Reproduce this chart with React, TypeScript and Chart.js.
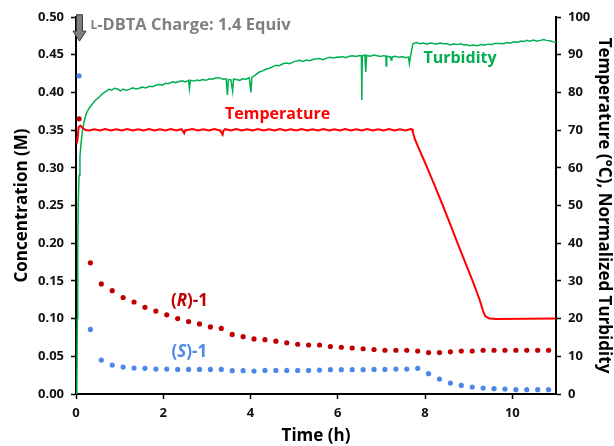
import { useEffect, useRef } from 'react';
import { Chart, registerables } from 'chart.js';

Chart.register(...registerables);

// ---- Data ----
const xTickStep = 2;
const leftTickStep = 0.05;
const rightTickStep = 10;

const dotTimes = [
  0.07, 0.33, 0.58, 0.83, 1.08, 1.33, 1.58, 1.83, 2.08, 2.33, 2.58, 2.83, 3.08, 3.33, 3.58, 3.83,
  4.08, 4.33, 4.58, 4.83, 5.08, 5.33, 5.58, 5.83, 6.08, 6.33, 6.58, 6.83, 7.08, 7.33, 7.58, 7.83,
  8.08, 8.33, 8.58, 8.83, 9.08, 9.33, 9.58, 9.83, 10.08, 10.33, 10.58, 10.83,
];
const rConc = [
  0.365, 0.174, 0.146, 0.137, 0.128, 0.122, 0.115, 0.11, 0.105, 0.1, 0.096, 0.093, 0.089, 0.087,
  0.079, 0.076, 0.073, 0.072, 0.07, 0.068, 0.066, 0.065, 0.065, 0.063, 0.062, 0.061, 0.06, 0.059,
  0.058, 0.058, 0.058, 0.057, 0.055, 0.055, 0.056, 0.057, 0.057, 0.058, 0.058, 0.058, 0.058,
  0.058, 0.058, 0.058,
];
const sConc = [
  0.422, 0.0857, 0.045, 0.0383, 0.0357, 0.0344, 0.034, 0.0331, 0.0331, 0.0326, 0.0326, 0.0326,
  0.0326, 0.0326, 0.0309, 0.0309, 0.0304, 0.0313, 0.0313, 0.0313, 0.0313, 0.0313, 0.0317, 0.0322,
  0.0322, 0.0322, 0.0322, 0.0326, 0.0326, 0.033, 0.033, 0.034, 0.0269, 0.0198, 0.0145, 0.0114,
  0.0092, 0.0078, 0.007, 0.0065, 0.0057, 0.0057, 0.0057, 0.0057,
];

const tempTimes = [
  0.02, 0.04, 0.06, 0.1, 0.16, 0.22, 0.3, 0.42, 0.55, 0.67, 0.8, 0.92, 1.05, 1.17, 1.3, 1.42, 1.55,
  1.67, 1.8, 1.92, 2.05, 2.17, 2.3, 2.42, 2.48, 2.5, 2.67, 2.8, 2.92, 3.05, 3.17, 3.3, 3.36, 3.38,
  3.42, 3.55, 3.67, 3.8, 3.92, 4.05, 4.17, 4.3, 4.42, 4.55, 4.67, 4.8, 4.92, 5.05, 5.17, 5.3, 5.42,
  5.55, 5.67, 5.8, 5.92, 6.05, 6.17, 6.3, 6.42, 6.55, 6.67, 6.8, 6.92, 7.05, 7.17, 7.3, 7.42, 7.55,
  7.67, 7.7, 7.72, 7.76, 7.85, 7.99, 8.18, 8.4, 8.6, 8.73, 8.94, 9.1, 9.25, 9.33, 9.38, 9.46, 9.6,
  11.0,
];
const tempValues = [
  66.5, 68, 70.8, 71.2, 70.5, 70, 69.9, 70.25, 69.9, 70.3, 69.9, 70.25, 69.9, 70.3, 69.9, 70.25,
  69.9, 70.3, 69.9, 70.25, 69.9, 70.3, 69.9, 70.25, 69.2, 69.9, 70.3, 69.9, 70.25, 69.9, 70.3,
  69.9, 68.8, 69.9, 70.25, 69.9, 70.3, 69.9, 70.25, 69.9, 70.3, 69.9, 70.25, 69.9, 70.3, 69.9,
  70.25, 69.9, 70.3, 69.9, 70.25, 69.9, 70.3, 69.9, 70.25, 69.9, 70.3, 69.9, 70.25, 69.9, 70.3,
  69.9, 70.25, 69.9, 70.3, 69.9, 70.25, 69.9, 70.3, 70.2, 69.5, 67.8, 65.3, 61.6, 56.4, 50.2,
  44.3, 40.4, 34.3, 29.7, 25.0, 22.0, 20.6, 20.1, 19.9, 20,
];

const turbTimes = [
  0, 0.02, 0.03, 0.04, 0.05, 0.07, 0.09, 0.12, 0.15, 0.19, 0.24, 0.3, 0.38, 0.45, 0.52, 0.6, 0.68,
  0.75, 0.82, 0.88, 0.95, 1.02, 1.08, 1.15, 1.22, 1.3, 1.37, 1.45, 1.52, 1.6, 1.68, 1.75, 1.83, 1.9,
  1.98, 2.05, 2.12, 2.21, 2.28, 2.36, 2.44, 2.5, 2.58, 2.6, 2.62, 2.7, 2.78, 2.83, 2.9, 2.98, 3.05,
  3.12, 3.2, 3.29, 3.36, 3.44, 3.47, 3.49, 3.55, 3.59, 3.61, 3.68, 3.75, 3.82, 3.9, 3.97, 4.01,
  4.03, 4.1, 4.2, 4.28, 4.36, 4.44, 4.52, 4.59, 4.66, 4.74, 4.82, 4.9, 4.98, 5.05, 5.12, 5.2, 5.28,
  5.36, 5.44, 5.52, 5.58, 5.66, 5.74, 5.82, 5.9, 5.98, 6.05, 6.11, 6.18, 6.26, 6.34, 6.42, 6.5,
  6.54, 6.55, 6.56, 6.62, 6.64, 6.66, 6.74, 6.82, 6.9, 6.98, 7.05, 7.1, 7.11, 7.12, 7.2, 7.22,
  7.24, 7.32, 7.4, 7.48, 7.56, 7.62, 7.64, 7.68, 7.72, 7.8, 7.88, 7.96, 8.04, 8.12, 8.18, 8.26,
  8.34, 8.42, 8.5, 8.58, 8.66, 8.74, 8.82, 8.9, 8.94, 9.02, 9.1, 9.2, 9.28, 9.36, 9.44, 9.52, 9.6,
  9.71, 9.8, 9.88, 9.96, 10.04, 10.12, 10.2, 10.28, 10.32, 10.4, 10.48, 10.56, 10.64, 10.72, 10.78,
  10.86, 10.94, 11.0,
];
const turbValues = [
  0, 2, 20, 38, 50, 58, 63, 67, 70, 72.5, 74.5, 75.8, 77, 78, 78.6, 79.6, 80.2, 80.8, 80.6, 81.1,
  80.9, 80.4, 80.9, 80.5, 80.8, 81.2, 80.9, 81.1, 81.4, 81.2, 81.6, 81.5, 81.9, 82.1, 81.9, 82.4,
  82.3, 82.8, 82.6, 82.9, 83.1, 82.8, 83.2, 81.0, 83.2, 83.0, 83.3, 83.1, 83.4, 83.2, 83.6, 83.5,
  83.8, 83.9, 83.5, 83.6, 79.3, 83.4, 83.3, 80.3, 83.5, 83.4, 83.2, 83.6, 83.5, 83.9, 80.0, 84.0,
  84.5, 85.4, 85.7, 86.2, 86.4, 86.9, 87.2, 87.1, 87.6, 87.8, 87.6, 88.1, 88.3, 88.5, 88.2, 88.6,
  88.4, 88.8, 88.9, 89.0, 88.7, 89.1, 89.3, 89.1, 89.4, 89.3, 89.5, 89.2, 89.6, 89.7, 89.5, 89.8,
  89.7, 78.0, 89.7, 89.9, 85.4, 89.8, 89.6, 89.9, 89.7, 89.5, 89.8, 89.6, 87.0, 89.6, 89.4, 88.6,
  89.4, 89.6, 89.3, 89.5, 89.2, 89.4, 87.6, 90.5, 92.9, 93.2, 92.9, 93.1, 92.8, 93.1, 93.0, 92.8,
  93.1, 92.9, 92.9, 92.6, 92.9, 92.7, 92.9, 92.5, 92.7, 92.4, 92.6, 92.4, 92.7, 92.5, 92.8, 92.7,
  93.0, 93.0, 92.9, 93.2, 93.1, 93.4, 93.3, 93.6, 93.5, 93.8, 93.6, 93.9, 93.6, 93.8, 94.0, 93.8,
  93.7, 93.4, 93.3,
];

// annotation anchors (data coordinates)
const chargeLabel = { t: 0.33, c: 0.489, small: 'L', rest: '-DBTA Charge: 1.4 Equiv' };
const arrowAnchor = { t: 0.08, top: 0.503, tip: 0.468 };
const tempLabel = { t: 4.62, v: 74.2, text: 'Temperature' };
const turbLabel = { t: 8.8, v: 89, text: 'Turbidity' };
const rLabel = { t: 2.6, c: 0.1235, pre: '(', it: 'R', post: ')-1' };
const sLabel = { t: 2.6, c: 0.0552, pre: '(', it: 'S', post: ')-1' };

const FONT = "'Open Sans', 'DejaVu Sans', sans-serif";
const GREEN = '#00b050';
const RED = '#ff0000';
const DARKRED = '#c00000';
const BLUE = '#4d88e8';

type Run = { text: string; font: string };

function drawRuns(ctx: CanvasRenderingContext2D, runs: Run[], x: number, y: number, align: 'center' | 'left', color: string) {
  ctx.save();
  ctx.fillStyle = color;
  ctx.textBaseline = 'middle';
  ctx.textAlign = 'left';
  let total = 0;
  const widths = runs.map((r) => {
    ctx.font = r.font;
    const w = ctx.measureText(r.text).width;
    total += w;
    return w;
  });
  let cx = align === 'center' ? x - total / 2 : x;
  runs.forEach((r, i) => {
    ctx.font = r.font;
    ctx.fillText(r.text, cx, y);
    cx += widths[i];
  });
  ctx.restore();
}

const annotationPlugin = {
  id: 'annotations',
  afterDatasetsDraw(chart: any) {
    const ctx: CanvasRenderingContext2D = chart.ctx;
    const xs = chart.scales.x;
    const yl = chart.scales.y;
    const yr = chart.scales.y1;

    // arrow
    const ax = xs.getPixelForValue(arrowAnchor.t);
    const aTop = yl.getPixelForValue(arrowAnchor.top);
    const aTip = yl.getPixelForValue(arrowAnchor.tip);
    const headStart = aTip - 10;
    ctx.save();
    ctx.beginPath();
    ctx.moveTo(ax - 3, aTop);
    ctx.lineTo(ax + 3, aTop);
    ctx.lineTo(ax + 3, headStart);
    ctx.lineTo(ax + 6.5, headStart);
    ctx.lineTo(ax, aTip);
    ctx.lineTo(ax - 6.5, headStart);
    ctx.lineTo(ax - 3, headStart);
    ctx.closePath();
    ctx.fillStyle = '#7f7f7f';
    ctx.fill();
    ctx.lineWidth = 1;
    ctx.strokeStyle = '#3a3a3a';
    ctx.stroke();
    ctx.restore();

    drawRuns(
      ctx,
      [
        { text: chargeLabel.small, font: `bold 12px ${FONT}` },
        { text: chargeLabel.rest, font: `bold 16.5px ${FONT}` },
      ],
      xs.getPixelForValue(chargeLabel.t),
      yl.getPixelForValue(chargeLabel.c),
      'left',
      '#808080'
    );

    drawRuns(ctx, [{ text: tempLabel.text, font: `bold 16px ${FONT}` }], xs.getPixelForValue(tempLabel.t), yr.getPixelForValue(tempLabel.v), 'center', RED);
    drawRuns(ctx, [{ text: turbLabel.text, font: `bold 16px ${FONT}` }], xs.getPixelForValue(turbLabel.t), yr.getPixelForValue(turbLabel.v), 'center', GREEN);

    for (const [lab, col] of [
      [rLabel, DARKRED],
      [sLabel, BLUE],
    ] as const) {
      drawRuns(
        ctx,
        [
          { text: lab.pre, font: `bold 17px ${FONT}` },
          { text: lab.it, font: `italic bold 17px ${FONT}` },
          { text: lab.post, font: `bold 17px ${FONT}` },
        ],
        xs.getPixelForValue(lab.t),
        yl.getPixelForValue(lab.c),
        'center',
        col
      );
    }
  },
};

export default function App() {
  const ref = useRef<HTMLCanvasElement | null>(null);

  useEffect(() => {
    document.body.style.margin = '0';
    const canvas = ref.current;
    if (!canvas) return;

    const tickFont = { family: FONT, size: 13, weight: 'bold' as const };
    const titleFont = { family: FONT, size: 17, weight: 'bold' as const };
    const grid = { drawOnChartArea: false, drawTicks: true, tickLength: 5, tickColor: '#000', tickWidth: 1.5 };
    const border = { color: '#000', width: 2 };

    const chart = new Chart(canvas, {
      type: 'scatter',
      data: {
        datasets: [
          {
            label: '(R)-1',
            data: dotTimes.map((t, i) => ({ x: t, y: rConc[i] })),
            yAxisID: 'y',
            backgroundColor: DARKRED,
            borderWidth: 0,
            pointRadius: 2.6,
            showLine: false,
            order: 0,
          },
          {
            label: '(S)-1',
            data: dotTimes.map((t, i) => ({ x: t, y: sConc[i] })),
            yAxisID: 'y',
            backgroundColor: BLUE,
            borderWidth: 0,
            pointRadius: 2.6,
            showLine: false,
            order: 1,
          },
          {
            label: 'Temperature',
            data: tempTimes.map((t, i) => ({ x: t, y: tempValues[i] })),
            yAxisID: 'y1',
            borderColor: RED,
            borderWidth: 2,
            pointRadius: 0,
            showLine: true,
            tension: 0,
            order: 2,
          },
          {
            label: 'Turbidity',
            data: turbTimes.map((t, i) => ({ x: t, y: turbValues[i] })),
            yAxisID: 'y1',
            borderColor: GREEN,
            borderWidth: 1.5,
            pointRadius: 0,
            showLine: true,
            tension: 0,
            order: 3,
          },
        ],
      },
      options: {
        responsive: false,
        animation: false,
        events: [],
        layout: { padding: { top: 17, left: 0, right: 0, bottom: 0 } },
        plugins: { legend: { display: false }, tooltip: { enabled: false } },
        scales: {
          x: {
            type: 'linear',
            min: 0,
            max: 11,
            ticks: { stepSize: xTickStep, includeBounds: false, font: tickFont, color: '#111', padding: 6 },
            grid,
            border,
            title: { display: true, text: 'Time (h)', font: titleFont, color: '#000', padding: { top: 0, bottom: 0 } },
            afterFit: (s: any) => {
              s.height = 52;
            },
          },
          y: {
            type: 'linear',
            position: 'left',
            min: 0,
            max: 0.5,
            ticks: {
              stepSize: leftTickStep,
              font: tickFont,
              color: '#111',
              padding: 7,
              callback: (v: any) => Number(v).toFixed(2),
            },
            grid,
            border,
            title: { display: true, text: 'Concentration (M)', font: titleFont, color: '#000', padding: { top: 12, bottom: 0 } },
            afterFit: (s: any) => {
              s.width = 76;
            },
          },
          y1: {
            type: 'linear',
            position: 'right',
            min: 0,
            max: 100,
            ticks: { stepSize: rightTickStep, font: tickFont, color: '#111', padding: 7 },
            grid,
            border,
            title: {
              display: true,
              text: 'Temperature (°C), Normalized Turbidity',
              font: titleFont,
              color: '#000',
              padding: { top: 0, bottom: 0 },
            },
            afterFit: (s: any) => {
              s.width = 58;
            },
          },
        },
      },
      plugins: [annotationPlugin],
    });

    return () => chart.destroy();
  }, []);

  return (
    <div style={{ position: 'absolute', left: 0, top: 0, width: 614, height: 446, background: '#fff' }}>
      <canvas ref={ref} width={614} height={446} style={{ display: 'block' }} />
    </div>
  );
}
